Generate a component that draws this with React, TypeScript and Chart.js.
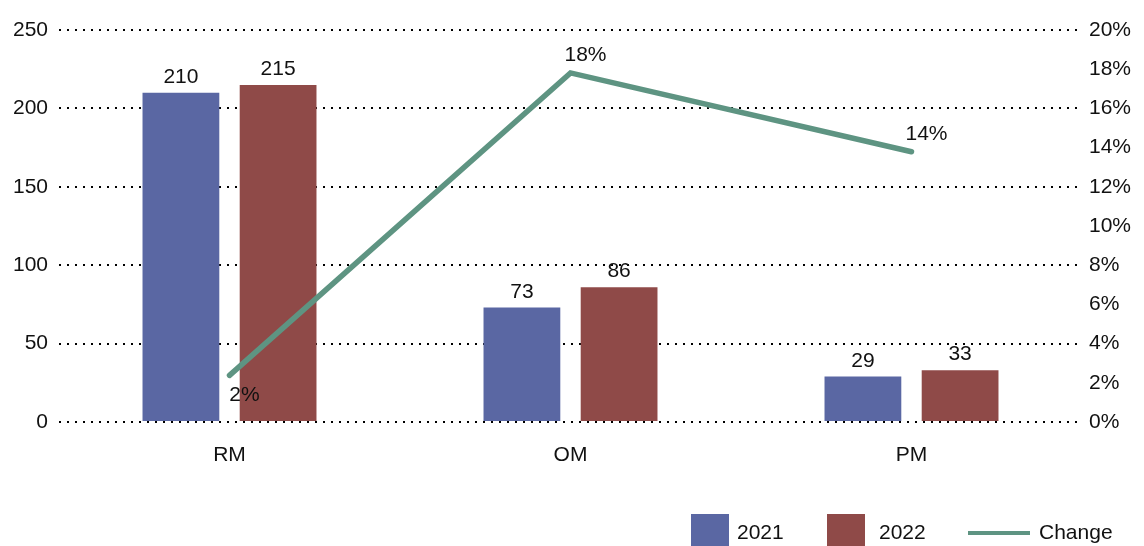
import React, { useEffect, useRef } from "react";
import { Chart, registerables } from "chart.js";

Chart.register(...registerables);

const categories = ["RM", "OM", "PM"];
const values2021 = [210, 73, 29];
const values2022 = [215, 86, 33];
const changePct = [2.38, 17.81, 13.79];
const changeLabels = ["2%", "18%", "14%"];
const changeLabelPos = ["below", "above", "above"];
const leftTicks = [0, 50, 100, 150, 200, 250];
const rightTickLabels = ["0%", "2%", "4%", "6%", "8%", "10%", "12%", "14%", "16%", "18%", "20%"];

const FONT = "'Liberation Sans', Arial, Helvetica, sans-serif";
const FS = 21;
const C2021 = "#5A67A3";
const C2022 = "#8F4A48";
const CLINE = "#5E9482";

const labelsPlugin = {
  id: "valueLabels",
  afterDatasetsDraw(chart: any) {
    const ctx = chart.ctx;
    ctx.save();
    ctx.font = `${FS}px ${FONT}`;
    ctx.fillStyle = "#111";
    ctx.textAlign = "center";
    chart.data.datasets.forEach((ds: any, di: number) => {
      const meta = chart.getDatasetMeta(di);
      meta.data.forEach((el: any, i: number) => {
        if (ds.type === "line") {
          const below = changeLabelPos[i] === "below";
          ctx.textBaseline = "middle";
          ctx.fillText(changeLabels[i], el.x + 15, below ? el.y + 20 : el.y - 18);
        } else {
          ctx.textBaseline = "alphabetic";
          ctx.fillText(String(ds.data[i]), el.x, el.y - 10);
        }
      });
    });
    ctx.restore();
  },
};

const legendPlugin = {
  id: "customLegend",
  afterDraw(chart: any) {
    const ctx = chart.ctx;
    ctx.save();
    ctx.font = `${FS}px ${FONT}`;
    ctx.fillStyle = "#111";
    ctx.textBaseline = "middle";
    ctx.textAlign = "left";
    const cy = 533;
    ctx.fillStyle = C2021;
    ctx.fillRect(691, 514, 38, 34);
    ctx.fillStyle = "#111";
    ctx.fillText("2021", 737, cy);
    ctx.fillStyle = C2022;
    ctx.fillRect(827, 514, 38, 34);
    ctx.fillStyle = "#111";
    ctx.fillText("2022", 879, cy);
    ctx.strokeStyle = CLINE;
    ctx.lineWidth = 4;
    ctx.beginPath();
    ctx.moveTo(968, cy);
    ctx.lineTo(1030, cy);
    ctx.stroke();
    ctx.fillText("Change", 1039, cy);
    ctx.restore();
  },
};

export default function App() {
  const ref = useRef<HTMLCanvasElement | null>(null);
  useEffect(() => {
    if (!ref.current) return;
    const chart = new Chart(ref.current, {
      data: {
        labels: categories,
        datasets: [
          {
            type: "line",
            label: "Change",
            data: changePct,
            yAxisID: "y1",
            borderColor: CLINE,
            backgroundColor: CLINE,
            borderWidth: 5.5,
            borderCapStyle: "round",
            pointRadius: 0,
            tension: 0,
            order: 0,
          },
          {
            type: "bar",
            label: "2021",
            data: values2021,
            yAxisID: "y",
            backgroundColor: C2021,
            categoryPercentage: 0.57,
            barPercentage: 0.79,
            order: 1,
          },
          {
            type: "bar",
            label: "2022",
            data: values2022,
            yAxisID: "y",
            backgroundColor: C2022,
            categoryPercentage: 0.57,
            barPercentage: 0.79,
            order: 1,
          },
        ],
      } as any,
      options: {
        animation: false,
        responsive: true,
        maintainAspectRatio: false,
        layout: { padding: { top: 30, left: 0, right: 0, bottom: 0 } },
        plugins: { legend: { display: false }, tooltip: { enabled: false } },
        scales: {
          x: {
            grid: { display: false, drawTicks: false },
            border: { display: false },
            ticks: { color: "#111", font: { family: FONT, size: FS }, padding: 21 },
            afterFit(scale: any) {
              scale.height = 124;
            },
          },
          y: {
            position: "left",
            min: 0,
            max: 250,
            afterBuildTicks(scale: any) {
              scale.ticks = leftTicks.map((v) => ({ value: v }));
            },
            grid: { color: "#000", lineWidth: 2, drawTicks: false },
            border: { display: false, dash: [2, 6] },
            ticks: { color: "#111", font: { family: FONT, size: FS }, padding: 11 },
            afterFit(scale: any) {
              scale.width = 59;
            },
          },
          y1: {
            position: "right",
            min: 0,
            max: 20,
            ticks: {
              stepSize: 2,
              color: "#111",
              font: { family: FONT, size: FS },
              padding: 7,
              callback: (_v: any, i: number) => rightTickLabels[i],
            },
            grid: { display: false, drawTicks: false },
            border: { display: false },
            afterFit(scale: any) {
              scale.width = 62;
            },
          },
        },
      } as any,
      plugins: [labelsPlugin, legendPlugin],
    });
    return () => chart.destroy();
  }, []);
  return (
    <div style={{ position: "fixed", left: 0, top: 0, width: 1144, height: 546, background: "#fff" }}>
      <canvas ref={ref} />
    </div>
  );
}
